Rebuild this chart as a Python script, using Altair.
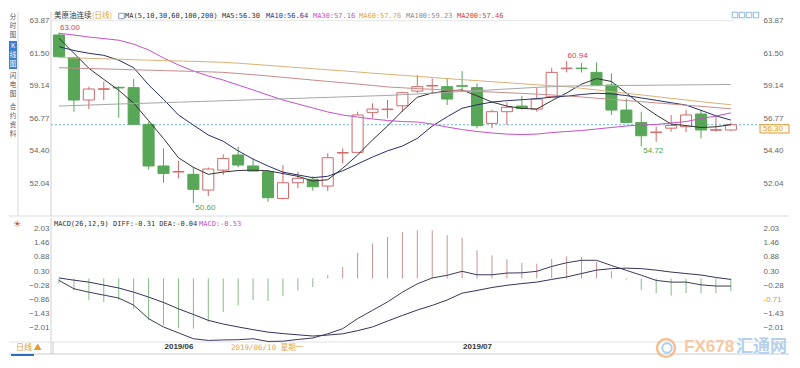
import altair as alt
import pandas as pd

# ---------------- data ----------------
idx = list(range(46))
opens = [62.83, 61.18, 58.10, 58.88, 59.02, 59.00, 56.33, 53.30, 52.86, 52.69,
         51.55, 53.00, 54.10, 53.30, 52.88, 50.94, 52.08, 52.33, 51.84, 54.24,
         54.29, 57.20, 57.40, 57.68, 58.75, 59.12, 59.07, 59.14, 59.00, 56.40,
         57.25, 57.66, 57.44, 58.34, 60.38, 60.42, 60.11, 59.19, 57.37, 56.47,
         55.73, 56.05, 56.16, 57.08, 55.90, 55.92]
closes = [61.25, 58.10, 58.90, 58.92, 58.98, 56.33, 53.30, 52.76, 52.90, 51.60,
          53.08, 53.85, 53.37, 52.93, 50.99, 52.08, 52.40, 51.79, 53.90, 54.28,
          57.01, 57.44, 57.44, 58.63, 59.07, 59.16, 58.17, 59.10, 56.23, 57.25,
          57.57, 57.49, 58.17, 60.11, 60.42, 60.38, 59.19, 57.37, 56.47, 55.50,
          55.77, 56.25, 57.01, 55.92, 55.94, 56.30]
highs = [63.00, 61.25, 59.07, 59.43, 59.10, 59.63, 56.52, 54.58, 53.68, 53.24,
         53.20, 54.15, 54.70, 53.85, 53.00, 53.37, 52.88, 52.55, 54.22, 54.58,
         57.25, 57.86, 58.10, 58.70, 59.92, 59.68, 59.68, 60.21, 59.31, 57.40,
         57.93, 58.41, 59.00, 60.45, 60.94, 60.80, 60.84, 60.04, 58.22, 57.25,
         56.16, 57.01, 57.37, 57.37, 57.01, 56.45]
lows = [61.20, 57.25, 57.44, 58.10, 56.81, 56.30, 53.05, 52.08, 52.40, 50.60,
        51.11, 52.64, 53.20, 52.90, 50.70, 50.85, 51.67, 51.50, 51.47, 53.49,
        54.29, 56.77, 56.77, 57.25, 58.60, 58.59, 57.73, 58.75, 56.04, 56.04,
        56.28, 57.40, 57.25, 58.30, 60.11, 60.10, 59.15, 57.01, 56.40, 54.72,
        55.06, 55.79, 55.75, 55.31, 55.80, 55.85]

ma5 = [62.59, 61.50, 60.41, 59.60, 58.81, 57.87, 56.60, 55.30, 53.90, 53.20,
       52.69, 52.86, 52.97, 53.00, 52.95, 52.75, 52.55, 52.20, 52.30, 53.13,
       54.10, 55.20, 56.20, 57.30, 58.30, 58.61, 58.75, 58.83, 58.40, 57.95,
       57.66, 57.49, 57.44, 58.05, 58.61, 59.25, 59.66, 59.45, 58.60, 57.75,
       57.01, 56.35, 56.24, 56.10, 56.15, 56.30]
ma10 = [61.98, 61.70, 61.50, 61.35, 61.00, 60.45, 59.20, 58.15, 57.01, 56.28,
        55.55, 55.10, 54.40, 53.80, 53.30, 52.85, 52.65, 52.45, 52.55, 52.95,
        53.45, 53.95, 54.40, 54.75, 55.31, 56.20, 56.88, 57.50, 57.75, 57.95,
        58.05, 58.12, 58.20, 58.30, 58.38, 58.50, 58.59, 58.55, 58.42, 58.25,
        58.08, 57.90, 57.73, 57.35, 56.95, 56.64]
ma30 = [62.95, 62.83, 62.68, 62.57, 62.45, 62.17, 61.74, 61.16, 60.65, 60.21,
        59.85, 59.55, 59.19, 58.83, 58.46, 58.10, 57.81, 57.52, 57.23, 57.01,
        56.86, 56.72, 56.61, 56.53, 56.50, 56.35, 56.13, 55.95, 55.81, 55.70,
        55.62, 55.59, 55.62, 55.73, 55.81, 55.88, 55.99, 56.10, 56.21, 56.28,
        56.32, 56.43, 56.53, 56.75, 56.93, 57.16]
ma60 = [61.19, 61.16, 61.13, 61.10, 61.07, 61.03, 61.00, 60.97, 60.94, 60.91,
        60.88, 60.84, 60.78, 60.70, 60.62, 60.54, 60.46, 60.38, 60.30, 60.22,
        60.14, 60.05, 59.97, 59.90, 59.82, 59.74, 59.66, 59.58, 59.51, 59.43,
        59.36, 59.28, 59.21, 59.14, 59.07, 58.95, 58.83, 58.71, 58.59, 58.47,
        58.35, 58.22, 58.10, 57.98, 57.86, 57.76]
ma100 = [57.66, 57.70, 57.73, 57.77, 57.81, 57.84, 57.87, 57.91, 57.94, 57.98,
         58.01, 58.05, 58.08, 58.12, 58.15, 58.19, 58.22, 58.26, 58.29, 58.33,
         58.36, 58.40, 58.43, 58.49, 58.54, 58.60, 58.66, 58.72, 58.78, 58.84,
         58.90, 58.96, 59.02, 59.07, 59.12, 59.13, 59.14, 59.15, 59.16, 59.17,
         59.18, 59.19, 59.20, 59.21, 59.22, 59.23]
ma200 = [60.45, 60.42, 60.39, 60.36, 60.33, 60.30, 60.27, 60.24, 60.21, 60.18,
         60.15, 60.11, 60.03, 59.94, 59.85, 59.75, 59.65, 59.55, 59.45, 59.36,
         59.26, 59.16, 59.05, 58.99, 58.93, 58.88, 58.83, 58.78, 58.72, 58.68,
         58.63, 58.58, 58.53, 58.47, 58.40, 58.32, 58.23, 58.15, 58.06, 57.98,
         57.89, 57.81, 57.72, 57.64, 57.55, 57.46]

diff = [-0.08, -0.42, -0.56, -0.68, -0.80, -1.09, -1.64, -1.98, -2.22, -2.46,
        -2.53, -2.51, -2.50, -2.46, -2.57, -2.56, -2.49, -2.43, -2.26, -2.05,
        -1.64, -1.30, -0.96, -0.56, -0.22, 0.02, 0.13, 0.29, 0.15, 0.15,
        0.22, 0.23, 0.29, 0.49, 0.64, 0.74, 0.74, 0.53, 0.33, 0.13,
        -0.08, -0.15, -0.15, -0.26, -0.31, -0.31]
dea = [0.02, -0.07, -0.15, -0.27, -0.39, -0.56, -0.76, -0.98, -1.24, -1.47,
       -1.71, -1.86, -1.98, -2.09, -2.19, -2.25, -2.30, -2.35, -2.31, -2.26,
       -2.13, -1.98, -1.74, -1.51, -1.29, -1.10, -0.88, -0.60, -0.49, -0.37,
       -0.28, -0.21, -0.15, -0.04, 0.06, 0.20, 0.34, 0.40, 0.42, 0.40,
       0.34, 0.26, 0.20, 0.14, 0.04, -0.04]
bars = [-0.20, -0.49, -0.89, -0.96, -0.89, -1.24, -1.71, -1.91, -2.02, -2.05,
        -1.78, -1.37, -1.10, -0.89, -0.92, -0.72, -0.49, -0.35, 0.13, 0.47,
        1.05, 1.42, 1.69, 1.89, 1.96, 1.96, 1.76, 1.65, 1.15, 0.94,
        0.78, 0.63, 0.60, 0.80, 0.90, 0.87, 0.67, 0.29, -0.05, -0.46,
        -0.60, -0.70, -0.60, -0.60, -0.60, -0.53]

PRICE_TICKS = [63.87, 61.50, 59.14, 56.77, 54.40, 52.04]
MACD_TICKS = [2.03, 1.46, 0.88, 0.30, -0.28, -0.86, -1.43, -2.01]
CURSOR_TICK = -0.86
CURSOR_MACD = -0.71
MONTH_IDX = [8, 28]
MONTH_LABELS = ["2019/06", "2019/07"]
CURSOR_DATE = "2019/06/10 星期一"
HIGH_IDX = [0, 34]
HIGH_VAL = [63.00, 60.94]
LOW_IDX = [9, 39]
LOW_VAL = [50.60, 54.72]
LAST_CLOSE = closes[-1]

# ---------------- layout / style ----------------
W, H1, H2 = 695, 208, 124
RIGHT = 738
xs = alt.Scale(domain=[-0.536, 46.015], nice=False, zero=False)
ps = alt.Scale(domain=[49.661, 64.794], nice=False, zero=False)
ms = alt.Scale(domain=[-2.5935, 2.4666], nice=False, zero=False)

MONO = "DejaVu Sans Mono, Noto Sans CJK SC"
CJK = "Noto Sans CJK SC"
SANS = "Liberation Sans, Arial"
RED = "#d06a6a"
GREEN = "#58a658"
ORANGE = "#e09a30"
MA_NAMES = ["MA5", "MA10", "MA30", "MA60", "MA100", "MA200"]
MA_COLORS = ["#333333", "#262f6b", "#c451c8", "#dbb176", "#a6a6a6", "#c78b8b"]
MA_TXT = ["#333333", "#2b3a8c", "#c451c8", "#d9a640", "#8c8c8c", "#cc4444"]

price_df = pd.DataFrame({"i": idx, "o": opens, "h": highs, "l": lows, "c": closes})
ma_df = pd.DataFrame({"i": idx, "MA5": ma5, "MA10": ma10, "MA30": ma30,
                      "MA60": ma60, "MA100": ma100, "MA200": ma200})
macd_df = pd.DataFrame({"i": idx, "diff": diff, "dea": dea, "bar": bars})


def one():
    return pd.DataFrame({"a": [0]})


def txt(s, x, y, color, size=7, font=MONO, align="left", weight="normal"):
    return alt.Chart(pd.DataFrame({"t": [s]})).mark_text(
        align=align, baseline="middle", color=color, fontSize=size,
        font=font, fontWeight=weight
    ).encode(x=alt.value(x), y=alt.value(y), text="t:N")


def rule(x1, y1, x2, y2, color, width=1, dash=None):
    kw = dict(color=color, strokeWidth=width)
    if dash:
        kw["strokeDash"] = dash
    return alt.Chart(one()).mark_rule(**kw).encode(
        x=alt.value(x1), y=alt.value(y1), x2=alt.value(x2), y2=alt.value(y2))


def yaxis(orient, ticks, **kw):
    base = dict(orient=orient, values=ticks, format=".2f", ticks=False, domain=False,
                grid=False, labelFont=SANS, labelFontSize=8, labelColor="#666666",
                labelOverlap=False, title=None)
    if orient == "left":
        base.update(labelAlign="right", labelPadding=2)
    else:
        base.update(labelAlign="left", labelPadding=17)
    base.update(kw)
    return alt.Axis(**base)


def axis_layer(ticks, scale, axis):
    return alt.Chart(pd.DataFrame({"v": ticks})).mark_point(opacity=0).encode(
        x=alt.value(0), y=alt.Y("v:Q", scale=scale, axis=axis))


# ---------------- price panel ----------------
p_layers = [
    axis_layer(PRICE_TICKS, ps, yaxis("left", PRICE_TICKS)),
    axis_layer(PRICE_TICKS, ps, yaxis("right", PRICE_TICKS)),
    alt.Chart(pd.DataFrame({"p": [PRICE_TICKS[0]]})).mark_rule(color="#e6e6e6").encode(
        y=alt.Y("p:Q", scale=ps, axis=None), x=alt.value(0), x2=alt.value(683)),
    rule(0, 4, 0, H1, "#d0d0d0"),
    rule(-33, 4, -33, H1, "#d8d8d8"),
    rule(-42, H1, RIGHT, H1, "#dddddd"),
    alt.Chart(one()).mark_rect(fill="#3d7fcf").encode(
        x=alt.value(-42), x2=alt.value(-34), y=alt.value(33), y2=alt.value(61)),
]
tabs = [("分", 9, "#555"), ("时", 18, "#555"), ("图", 27, "#555"),
        ("K", 38, "white"), ("线", 47, "white"), ("图", 56, "white"),
        ("闪", 68, "#555"), ("电", 77, "#555"), ("图", 86, "#555"),
        ("合", 99, "#555"), ("约", 108, "#555"), ("资", 117, "#555"), ("料", 126, "#555")]
for ch, yy, col in tabs:
    p_layers.append(txt(ch, -38, yy, col, size=6.5, font=CJK, align="center"))

p_layers.append(
    alt.Chart(pd.DataFrame({"p": [LAST_CLOSE]})).mark_rule(
        color="#6cbad3", strokeDash=[2, 2], strokeWidth=1).encode(
        y=alt.Y("p:Q", scale=ps, axis=None), x=alt.value(0), x2=alt.value(RIGHT)))

up = "datum.c >= datum.o"
dn = "datum.c < datum.o"
for flt, col, fill in [(up, RED, "white"), (dn, GREEN, GREEN)]:
    p_layers.append(
        alt.Chart(price_df).transform_filter(flt).mark_rule(color=col, strokeWidth=1).encode(
            x=alt.X("i:Q", scale=xs, axis=None),
            y=alt.Y("l:Q", scale=ps, axis=None), y2="h:Q"))
    p_layers.append(
        alt.Chart(price_df).transform_filter(flt)
        .transform_calculate(xl="datum.i - 0.37", xr="datum.i + 0.37")
        .mark_rect(fill=fill, stroke=col, strokeWidth=1).encode(
            x=alt.X("xl:Q", scale=xs, axis=None), x2="xr:Q",
            y=alt.Y("o:Q", scale=ps, axis=None), y2="c:Q"))

for name, col in zip(MA_NAMES, MA_COLORS):
    p_layers.append(
        alt.Chart(ma_df).mark_line(color=col, strokeWidth=1).encode(
            x=alt.X("i:Q", scale=xs, axis=None),
            y=alt.Y(f"{name}:Q", scale=ps, axis=None)))

p_layers.append(
    alt.Chart(pd.DataFrame({"i": HIGH_IDX, "v": HIGH_VAL})).mark_text(
        align="left", baseline="middle", dx=1, dy=-4.5, color="#d04848",
        fontSize=8, font=SANS).encode(
        x=alt.X("i:Q", scale=xs, axis=None), y=alt.Y("v:Q", scale=ps, axis=None),
        text=alt.Text("v:Q", format=".2f")))
p_layers.append(
    alt.Chart(pd.DataFrame({"i": LOW_IDX, "v": LOW_VAL})).mark_text(
        align="left", baseline="middle", dx=2, dy=4.5, color="#4f9f4f",
        fontSize=8, font=SANS).encode(
        x=alt.X("i:Q", scale=xs, axis=None), y=alt.Y("v:Q", scale=ps, axis=None),
        text=alt.Text("v:Q", format=".2f")))

# current price box on the right
box_df = pd.DataFrame({"p": [LAST_CLOSE]})
p_layers.append(
    alt.Chart(box_df).transform_calculate(p2="datum.p - 0.6").mark_rect(
        fill="#fffaf0", stroke=ORANGE, strokeWidth=1).encode(
        y=alt.Y("p:Q", scale=ps, axis=None), y2="p2:Q",
        x=alt.value(709), x2=alt.value(RIGHT)))
p_layers.append(
    alt.Chart(box_df).mark_text(align="left", baseline="middle", dy=4.5, color=ORANGE,
                                fontSize=8, font=SANS).encode(
        y=alt.Y("p:Q", scale=ps, axis=None), x=alt.value(712),
        text=alt.Text("p:Q", format=".2f")))

# title row
ma_last = [ma5[-1], ma10[-1], ma30[-1], ma60[-1], ma100[-1], ma200[-1]]
p_layers.append(txt("美原油连续", 3, 8, "#333333", size=7.5, font=CJK))
p_layers.append(txt("(日线)", 41, 8, "#d9a640", size=7.5, font=CJK))
p_layers.append(alt.Chart(one()).mark_square(filled=False, size=30, stroke="#6a6ab0",
                                             strokeWidth=1).encode(
    x=alt.value(70.5), y=alt.value(8)))
p_layers.append(txt(f"MA(5,10,30,60,100,200) MA5:{ma_last[0]:.2f}", 74, 8, MA_TXT[0]))
for name, val, col, xx in zip(MA_NAMES[1:], ma_last[1:], MA_TXT[1:], [215, 262, 308, 355, 406]):
    p_layers.append(txt(f"{name}:{val:.2f}", xx, 8, col))
for xx in [684, 691, 698, 705]:
    p_layers.append(alt.Chart(one()).mark_square(filled=False, size=30, stroke="#5b9bd5",
                                                 strokeWidth=1).encode(
        x=alt.value(xx), y=alt.value(7)))

panel1 = alt.layer(*p_layers).resolve_scale(y="independent").properties(width=W, height=H1)

# ---------------- MACD panel ----------------
month_expr = " : ".join(f"datum.value == {i} ? '{l}'" for i, l in zip(MONTH_IDX, MONTH_LABELS)) + " : ''"
x_axis = alt.Axis(values=MONTH_IDX, labelExpr=month_expr, ticks=False, domain=False, grid=False,
                  labelFont=SANS, labelFontSize=8, labelFontWeight="bold", labelColor="#333333",
                  labelPadding=0, labelFlush=False, labelOverlap=False, title=None)

m_layers = [
    axis_layer(MACD_TICKS, ms, yaxis("left", MACD_TICKS)),
    axis_layer(MACD_TICKS, ms, yaxis(
        "right", MACD_TICKS,
        labelExpr=f"datum.value == {CURSOR_TICK} ? '{CURSOR_MACD:.2f}' : datum.label",
        labelColor={"condition": {"test": f"datum.value == {CURSOR_TICK}", "value": ORANGE},
                    "value": "#666666"})),
    rule(0, 0, 0, 136, "#d0d0d0"),
    rule(-42, 124, RIGHT, 124, "#e2e2e2"),
    rule(-42, 136, RIGHT, 136, "#cccccc"),
    rule(2, 124, 2, 136, "#cccccc"),
    rule(-40, 137, -17, 137, "#2f6fba", width=2),
    alt.Chart(macd_df).mark_rule(strokeWidth=1).encode(
        x=alt.X("i:Q", scale=xs, axis=x_axis),
        y=alt.Y("bar:Q", scale=ms, axis=None), y2=alt.datum(0),
        color=alt.condition("datum.bar > 0", alt.value("#c99393"), alt.value("#86bb86"))),
    alt.Chart(macd_df).mark_line(color="#3a3a5e", strokeWidth=1).encode(
        x=alt.X("i:Q", scale=xs, axis=x_axis), y=alt.Y("diff:Q", scale=ms, axis=None)),
    alt.Chart(macd_df).mark_line(color="#34345a", strokeWidth=1).encode(
        x=alt.X("i:Q", scale=xs, axis=x_axis), y=alt.Y("dea:Q", scale=ms, axis=None)),
    txt("☀", -34, 6, "#d04040", size=9, font="DejaVu Sans", align="center"),
    txt(f"MACD(26,12,9) DIFF:{diff[-1]:.2f} DEA:{dea[-1]:.2f}", 3, 6, "#333333"),
    txt(f"MACD:{bars[-1]:.2f}", 148, 6, "#c451c8"),
    txt("日线 ▲", -35, 130, ORANGE, size=8, font=CJK),
    txt(CURSOR_DATE, 180, 130, "#e0a850", size=7.5, font=MONO),
    alt.Chart(one()).mark_point(shape="circle", filled=False, size=320, stroke="#f3b27a",
                                strokeWidth=2.5, opacity=0.8).encode(
        x=alt.value(615), y=alt.value(130)),
    alt.Chart(one()).mark_point(shape="circle", filled=False, size=90, stroke="#9cc3e6",
                                strokeWidth=2, opacity=0.8).encode(
        x=alt.value(616), y=alt.value(130)),
    txt("FX678", 633, 129, "#f6c9a3", size=17, font=SANS, weight="bold"),
    txt("汇通网", 685, 129, "#b5d0ec", size=17, font=CJK, weight="bold"),
]
panel2 = alt.layer(*m_layers).resolve_scale(y="independent").properties(width=W, height=H2)

chart = (
    alt.vconcat(panel1, panel2, spacing=0)
    .resolve_scale(x="independent", y="independent")
    .properties(padding=0, background="white")
    .configure_view(stroke=None)
)
chart.save("out.html", embed_options={"renderer": "svg", "actions": False})
